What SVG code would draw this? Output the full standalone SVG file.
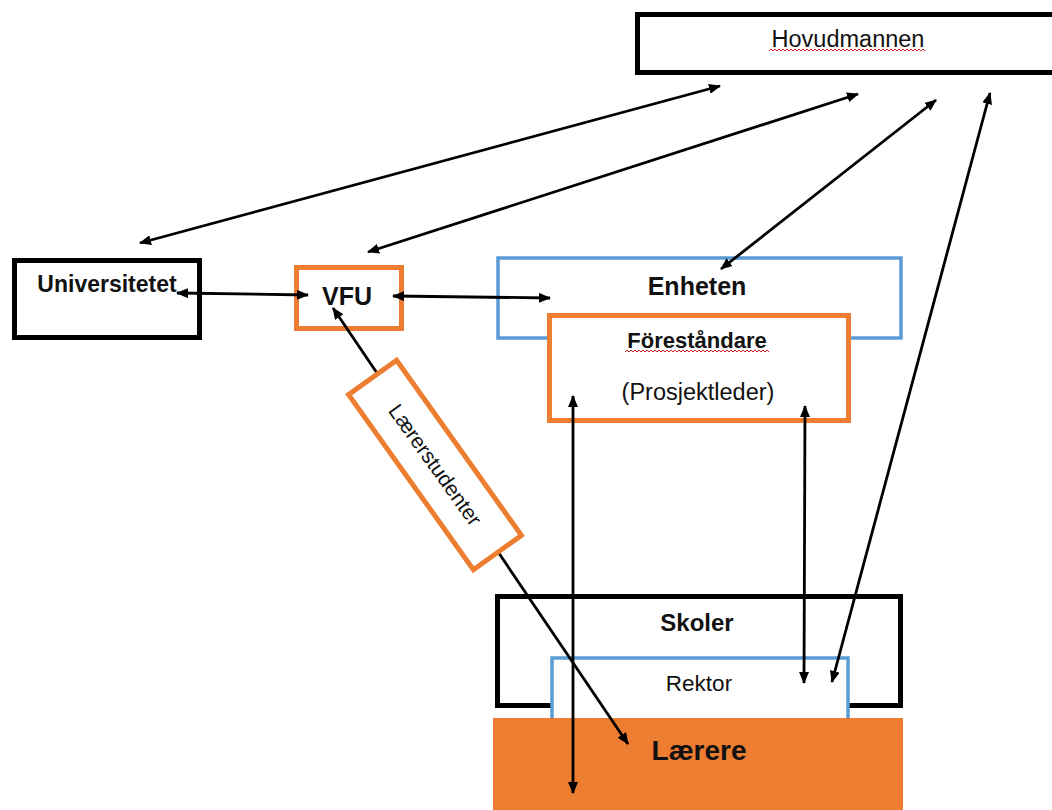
<svg xmlns="http://www.w3.org/2000/svg" width="1052" height="810" viewBox="0 0 1052 810">
  <style>
    .lbl { font-family: "Liberation Sans", Arial, sans-serif; fill: #111; text-anchor: middle; }
    .b { font-weight: bold; }
    .blk { fill: #fff; stroke: #000; stroke-width: 5; }
    .org { fill: #fff; stroke: #ED7D31; stroke-width: 5; }
    .blu { fill: #fff; stroke: #5B9BD5; stroke-width: 3.5; }
    .con { fill: none; stroke: #000; stroke-width: 2.8; marker-start: url(#ah); marker-end: url(#ah); }
    .squig { fill: none; stroke: #e02020; stroke-width: 1; }
  </style>
  <defs>
    <marker id="ah" viewBox="0 0 12 10" refX="11" refY="5" markerWidth="12" markerHeight="10" markerUnits="userSpaceOnUse" orient="auto-start-reverse">
      <path d="M0,0 L12,5 L0,10 z" fill="#000"/>
    </marker>
  </defs>
  <rect width="1052" height="810" fill="#fff"/>

  <g id="hovudmannen">
    <rect class="blk" x="637.5" y="14.5" width="430" height="58"/>
    <text class="lbl" x="848" y="47" font-size="23.5">Hovudmannen</text>
    <!-- spell-check squiggle: 39 waves of 4px -->
    <path class="squig" d="M769,51
      l2,-2 l2,2 l2,-2 l2,2 l2,-2 l2,2 l2,-2 l2,2 l2,-2 l2,2
      l2,-2 l2,2 l2,-2 l2,2 l2,-2 l2,2 l2,-2 l2,2 l2,-2 l2,2
      l2,-2 l2,2 l2,-2 l2,2 l2,-2 l2,2 l2,-2 l2,2 l2,-2 l2,2
      l2,-2 l2,2 l2,-2 l2,2 l2,-2 l2,2 l2,-2 l2,2 l2,-2 l2,2
      l2,-2 l2,2 l2,-2 l2,2 l2,-2 l2,2 l2,-2 l2,2 l2,-2 l2,2
      l2,-2 l2,2 l2,-2 l2,2 l2,-2 l2,2 l2,-2 l2,2 l2,-2 l2,2
      l2,-2 l2,2 l2,-2 l2,2 l2,-2 l2,2 l2,-2 l2,2 l2,-2 l2,2
      l2,-2 l2,2 l2,-2 l2,2 l2,-2 l2,2 l2,-2 l2,2"/>
  </g>

  <g id="universitetet">
    <rect class="blk" x="14.5" y="260.5" width="185" height="77"/>
    <text class="lbl b" x="107" y="292" font-size="23">Universitetet</text>
  </g>

  <g id="vfu">
    <rect class="org" x="296.5" y="267.5" width="105" height="61"/>
    <text class="lbl b" x="347" y="305" font-size="25">VFU</text>
  </g>

  <g id="enheten">
    <rect class="blu" x="498" y="258" width="403" height="80"/>
    <text class="lbl b" x="697" y="295" font-size="25">Enheten</text>
  </g>

  <g id="forestandare">
    <rect class="org" x="549.5" y="315.5" width="299" height="105"/>
    <text class="lbl b" x="697" y="348" font-size="22">Föreståndare</text>
    <!-- spell-check squiggle: 36 waves of 4px -->
    <path class="squig" d="M625,352
      l2,-2 l2,2 l2,-2 l2,2 l2,-2 l2,2 l2,-2 l2,2 l2,-2 l2,2
      l2,-2 l2,2 l2,-2 l2,2 l2,-2 l2,2 l2,-2 l2,2 l2,-2 l2,2
      l2,-2 l2,2 l2,-2 l2,2 l2,-2 l2,2 l2,-2 l2,2 l2,-2 l2,2
      l2,-2 l2,2 l2,-2 l2,2 l2,-2 l2,2 l2,-2 l2,2 l2,-2 l2,2
      l2,-2 l2,2 l2,-2 l2,2 l2,-2 l2,2 l2,-2 l2,2 l2,-2 l2,2
      l2,-2 l2,2 l2,-2 l2,2 l2,-2 l2,2 l2,-2 l2,2 l2,-2 l2,2
      l2,-2 l2,2 l2,-2 l2,2 l2,-2 l2,2 l2,-2 l2,2 l2,-2 l2,2
      l2,-2 l2,2"/>
    <text class="lbl" x="698" y="400" font-size="23.5">(Prosjektleder)</text>
  </g>

  <g id="skoler">
    <rect class="blk" x="497.5" y="596.5" width="403" height="109"/>
    <text class="lbl b" x="697" y="631" font-size="24">Skoler</text>
  </g>

  <g id="rektor">
    <rect class="blu" x="552" y="658" width="296" height="70"/>
    <text class="lbl" x="699" y="691" font-size="22.5">Rektor</text>
  </g>

  <g id="laerere">
    <rect x="493" y="718" width="410" height="92" fill="#ED7D31"/>
    <text class="lbl b" x="699" y="760" font-size="28">Lærere</text>
  </g>

  <g id="connectors">
    <line class="con" x1="140" y1="243" x2="720" y2="86"/>
    <line class="con" x1="368" y1="252" x2="858" y2="94"/>
    <line class="con" x1="936" y1="100" x2="721" y2="269"/>
    <line class="con" x1="990" y1="93" x2="832" y2="682"/>
    <line class="con" x1="177" y1="293" x2="308" y2="295"/>
    <line class="con" x1="393" y1="296" x2="550" y2="298"/>
    <line class="con" x1="333" y1="308" x2="628" y2="744"/>
    <line class="con" x1="573" y1="396" x2="573" y2="793"/>
    <line class="con" x1="805" y1="406" x2="804" y2="683"/>
  </g>

  <g id="laererstudenter" transform="translate(435,465) rotate(54.5)">
    <rect class="org" x="-107.5" y="-29.5" width="215" height="59"/>
    <text class="lbl" x="0" y="7" font-size="21">Lærerstudenter</text>
  </g>
</svg>
